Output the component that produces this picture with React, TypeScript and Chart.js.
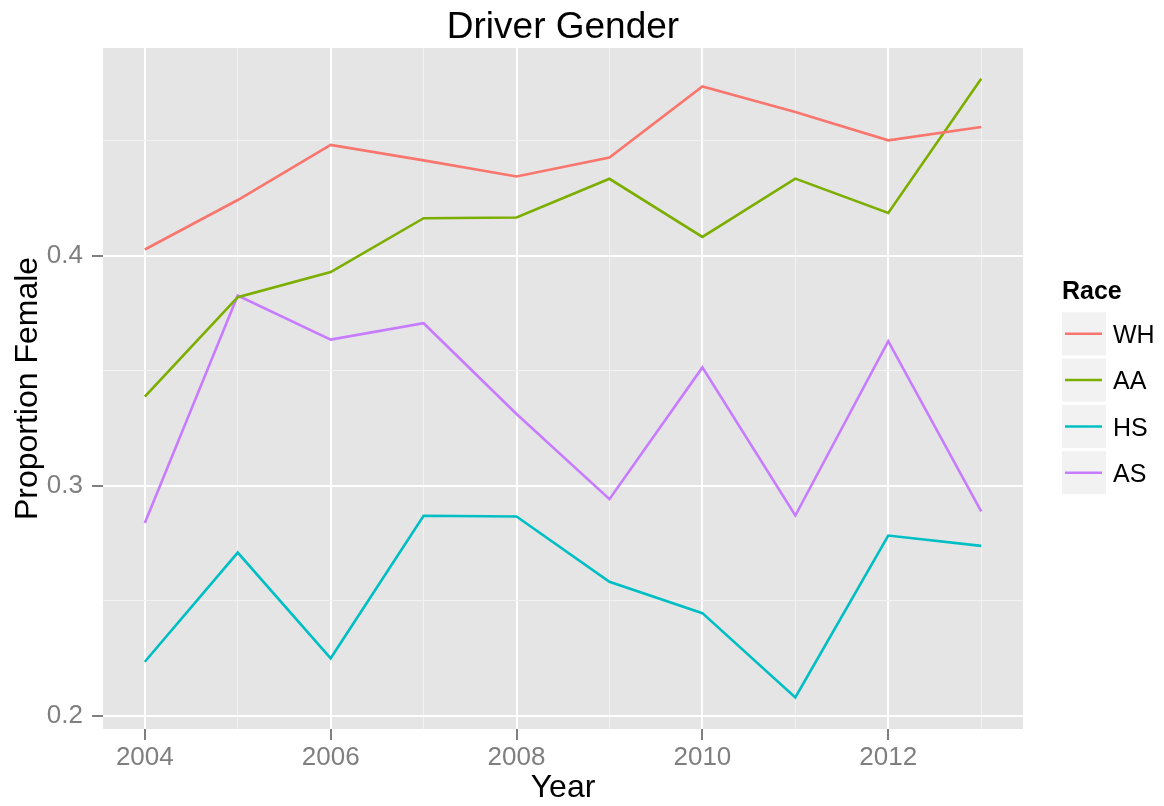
import React, { useEffect, useRef } from 'react';
import { Chart, registerables } from 'chart.js';

Chart.register(...registerables);

const years = [2004, 2005, 2006, 2007, 2008, 2009, 2010, 2011, 2012, 2013];
const wh = [0.4026, 0.4241, 0.4480, 0.4413, 0.4343, 0.4425, 0.4734, 0.4623, 0.4500, 0.4558];
const aa = [0.3387, 0.3819, 0.3928, 0.4162, 0.4165, 0.4333, 0.4081, 0.4334, 0.4185, 0.4767];
const hs = [0.2236, 0.2710, 0.2251, 0.2870, 0.2867, 0.2583, 0.2447, 0.2081, 0.2784, 0.2739];
const as = [0.2838, 0.3826, 0.3635, 0.3706, 0.3312, 0.2942, 0.3514, 0.2871, 0.3628, 0.2889];

const seriesNames = ['WH', 'AA', 'HS', 'AS'];
const seriesValues = [wh, aa, hs, as];
const seriesColors = ['#F8766D', '#7CAE00', '#00BFC4', '#C77CFF'];

const yTickValues = [0.2, 0.25, 0.3, 0.35, 0.4, 0.45];
const yLabelValues = [0.2, 0.3, 0.4];
const xLabelValues = [2004, 2006, 2008, 2010, 2012];

const titleText = 'Driver Gender';
const xTitle = 'Year';
const yTitle = 'Proportion Female';
const legendTitle = 'Race';

const FONT = '"Liberation Sans", Arial, Helvetica, sans-serif';

const isYMajor = (v: number) => yLabelValues.some((m) => Math.abs(m - v) < 1e-9);
const isXMajor = (v: number) => xLabelValues.includes(Math.round(v));

const decor = {
  id: 'ggdecor',
  beforeDraw(chart: any) {
    const { ctx, chartArea } = chart;
    ctx.save();
    ctx.fillStyle = '#E5E5E5';
    ctx.fillRect(chartArea.left, chartArea.top, chartArea.right - chartArea.left, chartArea.bottom - chartArea.top);
    ctx.restore();
  },
  afterDraw(chart: any) {
    const { ctx, chartArea } = chart;
    const cx = (chartArea.left + chartArea.right) / 2;
    const cy = (chartArea.top + chartArea.bottom) / 2;
    ctx.save();
    ctx.fillStyle = '#000';
    ctx.textAlign = 'center';
    ctx.textBaseline = 'alphabetic';
    ctx.font = `37px ${FONT}`;
    ctx.fillText(titleText, cx, 38);
    ctx.font = `32px ${FONT}`;
    ctx.fillText(xTitle, cx, 797);
    ctx.save();
    ctx.translate(37, cy);
    ctx.rotate(-Math.PI / 2);
    ctx.fillText(yTitle, 0, 0);
    ctx.restore();

    // legend
    ctx.textAlign = 'left';
    ctx.font = `bold 25px ${FONT}`;
    ctx.fillText(legendTitle, 1062, 299);
    const keyX = 1062;
    const keyW = 44;
    const keyH = 43;
    const pitch = 46.3;
    const top0 = 312.3;
    ctx.font = `25px ${FONT}`;
    seriesNames.forEach((name, i) => {
      const ky = top0 + i * pitch;
      ctx.fillStyle = '#F2F2F2';
      ctx.fillRect(keyX, ky, keyW, keyH);
      ctx.strokeStyle = seriesColors[i];
      ctx.lineWidth = 2.5;
      ctx.beginPath();
      ctx.moveTo(keyX + 3, ky + keyH / 2);
      ctx.lineTo(keyX + keyW - 4, ky + keyH / 2);
      ctx.stroke();
      ctx.fillStyle = '#000';
      ctx.textBaseline = 'alphabetic';
      ctx.fillText(name, 1113, ky + keyH / 2 + 9.3);
    });
    ctx.restore();
  },
};

export default function App() {
  const ref = useRef<HTMLCanvasElement | null>(null);
  useEffect(() => {
    if (!ref.current) return;
    const chart = new Chart(ref.current, {
      type: 'line',
      data: {
        datasets: seriesNames.map((name, i) => ({
          label: name,
          data: years.map((x, j) => ({ x, y: seriesValues[i][j] })),
          borderColor: seriesColors[i],
          backgroundColor: seriesColors[i],
          borderWidth: 2.6,
          pointRadius: 0,
          tension: 0,
          fill: false,
        })),
      },
      options: {
        responsive: false,
        maintainAspectRatio: false,
        devicePixelRatio: 1,
        animation: false,
        layout: { padding: { left: 0, top: 48, right: 141, bottom: 0 } },
        plugins: {
          legend: { display: false },
          title: { display: false },
          tooltip: { enabled: false },
        },
        scales: {
          x: {
            type: 'linear',
            min: 2003.55,
            max: 2013.45,
            afterBuildTicks: (scale: any) => {
              scale.ticks = years.map((v) => ({ value: v }));
            },
            afterFit: (scale: any) => {
              scale.height = 77;
            },
            border: { display: false },
            grid: {
              color: (c: any) => (c.tick && isXMajor(c.tick.value) ? '#FFFFFF' : '#F2F2F2'),
              lineWidth: (c: any) => (c.tick && isXMajor(c.tick.value) ? 2 : 1),
              tickColor: (c: any) => (c.tick && isXMajor(c.tick.value) ? '#7F7F7F' : 'rgba(0,0,0,0)'),
              tickLength: 11,
              tickWidth: 2,
              drawTicks: true,
            },
            ticks: {
              autoSkip: false,
              maxRotation: 0,
              minRotation: 0,
              padding: 2,
              color: '#7F7F7F',
              font: { family: FONT, size: 26 },
              callback: (v: any) => (isXMajor(Number(v)) ? String(Math.round(Number(v))) : ''),
            },
          },
          y: {
            type: 'linear',
            min: 0.1944,
            max: 0.4901,
            afterBuildTicks: (scale: any) => {
              scale.ticks = yTickValues.map((v) => ({ value: v }));
            },
            afterFit: (scale: any) => {
              scale.width = 103;
            },
            border: { display: false },
            grid: {
              color: (c: any) => (c.tick && isYMajor(c.tick.value) ? '#FFFFFF' : '#F2F2F2'),
              lineWidth: (c: any) => (c.tick && isYMajor(c.tick.value) ? 2 : 1),
              tickColor: (c: any) => (c.tick && isYMajor(c.tick.value) ? '#7F7F7F' : 'rgba(0,0,0,0)'),
              tickLength: 11,
              tickWidth: 2,
              drawTicks: true,
            },
            ticks: {
              autoSkip: false,
              padding: 9,
              color: '#7F7F7F',
              font: { family: FONT, size: 26 },
              callback: (v: any) => (isYMajor(Number(v)) ? Number(v).toFixed(1) : ''),
            },
          },
        },
      },
      plugins: [decor],
    } as any);
    return () => chart.destroy();
  }, []);
  return (
    <div style={{ position: 'absolute', left: 0, top: 0, width: 1164, height: 806, background: '#fff' }}>
      <canvas ref={ref} width={1164} height={806} style={{ display: 'block', width: 1164, height: 806 }} />
    </div>
  );
}
